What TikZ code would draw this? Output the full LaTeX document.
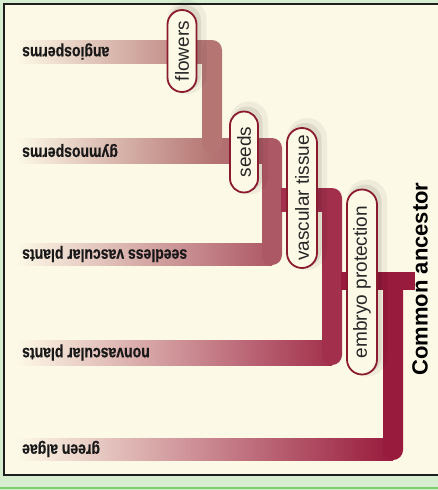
\documentclass[tikz,border=0pt]{standalone}
\usepackage{fontspec}
\setmainfont{Liberation Sans}
\newfontfamily\tipfont[FakeStretch=0.8,UprightFont={Liberation Sans Bold},FakeBold=0.6]{Liberation Sans}
\usetikzlibrary{shapes.misc}
\definecolor{bggreen}{HTML}{D6EDD0}
\definecolor{linegreen}{HTML}{7CCB6C}
\definecolor{cream}{HTML}{FDF9E7}
\definecolor{framecol}{HTML}{1E1E1E}
\definecolor{cone}{HTML}{B57573}
\definecolor{ctwo}{HTML}{AD5865}
\definecolor{cthree}{HTML}{A2304C}
\definecolor{cfour}{HTML}{981A3C}
\definecolor{pillred}{HTML}{8A1B2E}
\newcommand\mypill[6]{% name, x, y, width, height, text
  \node[pillbox,fill=black,opacity=0.05,draw=none,minimum width=#4+12pt,minimum height=#5+10pt] (#1s2) at (#2+5,#3-4) {\phantom{#6}};
  \node[pillbox,fill=black,opacity=0.08,draw=none,minimum width=#4+4pt,minimum height=#5+3pt] (#1s1) at (#2+3,#3-3) {\phantom{#6}};
  \node[pillbox,minimum width=#4,minimum height=#5] (#1) at (#2,#3) {#6};}
\begin{document}
\begin{tikzpicture}[x=1pt,y=-1pt,
  tiplabel/.style={rotate=180,anchor=east,inner sep=0pt,font=\tipfont\fontsize{17.5}{19}\selectfont,text=black!90},
  pillbox/.style={rounded rectangle,draw=pillred,line width=1.8pt,fill=cream,rotate=90,inner sep=0pt,font=\fontsize{19}{22}\selectfont,text=black!85},
  vbar/.style={rounded corners=10pt},
]
\useasboundingbox (0,0) rectangle (438,490);
% frame
\fill[bggreen] (0,0) rectangle (438,490);
\fill[cream] (4,4) rectangle (438,475);
\draw[framecol,line width=2pt] (438,4) -- (4,4) -- (4,475) -- (438,475);
\draw[linegreen,line width=1.5pt] (0,488) -- (438,488);

% angiosperms / gymnosperms (flowers)
\shade[left color=cream,right color=cone] (16,40) rectangle (212,63);
\shade[left color=cream,right color=cone] (16,138) rectangle (212,163);
\shade[left color=cone,right color=ctwo] (211,138) rectangle (272,163);
\fill[cone,vbar] (202,40) rectangle (222,152);
% seeds
\shade[left color=cream,right color=ctwo] (16,243) rectangle (272,265);
\fill[ctwo,vbar] (262,138) rectangle (282,265);
% vascular tissue
\fill[cthree] (281,188) rectangle (332,212);
\shade[left color=cream,right color=cthree] (16,340) rectangle (332,365);
\fill[cthree,vbar] (322,188) rectangle (342,365);
% root
\shade[left color=cream,right color=cfour] (16,438) rectangle (393,460);
\fill[cfour,vbar] (383,280) rectangle (403,460);
\fill[cfour] (341,272) rectangle (415,290);

% tip labels
\node[tiplabel] (angio) at (22,51.5) {angiosperms};
\node[tiplabel] (gymno) at (22,150.5) {gymnosperms};
\node[tiplabel] (seedless) at (22,254) {seedless vascular plants};
\node[tiplabel] (nonvasc) at (22,352.5) {nonvascular plants};
\node[tiplabel] (algae) at (22,449) {green algae};

% character pills
\mypill{flowers}{182}{51}{82pt}{29pt}{flowers}
\mypill{seeds}{244}{152}{81pt}{28pt}{seeds}
\mypill{vascular}{302}{198}{140pt}{30pt}{vascular tissue}
\mypill{embryo}{362}{282}{185pt}{30pt}{embryo protection}

\node[rotate=90,inner sep=0pt,font=\fontsize{22}{26}\selectfont\bfseries,text=black] (ancestor) at (420,279) {Common ancestor};
\end{tikzpicture}
\end{document}
